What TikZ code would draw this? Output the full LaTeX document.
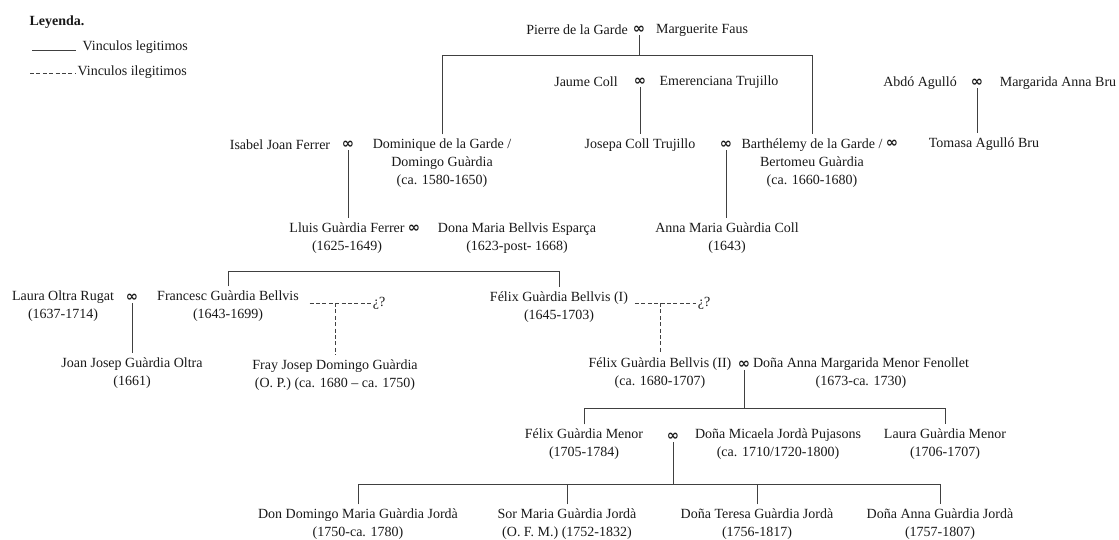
\documentclass[tikz,border=0pt]{standalone}
\usepackage{fontspec}
\setmainfont{Liberation Serif}
\newfontfamily\infsym{DejaVu Sans}
\usetikzlibrary{positioning}

\begin{document}
\begin{tikzpicture}[x=0.75pt,y=-0.75pt,
person/.style={align=center,inner xsep=1pt,inner ysep=3pt,font=\fontsize{10.5}{13.5}\selectfont,text=black!90},
wed/.style={inner sep=1pt,font=\infsym\bfseries\fontsize{11}{11}\selectfont,text=black!90},
legit/.style={line width=0.7pt,draw=black!75},
illeg/.style={legit,dash pattern=on 3pt off 1.8pt}
]
\useasboundingbox (0,0) rectangle (1119,539);
% leyenda
\node[person,anchor=west,font=\fontsize{10.5}{13.5}\selectfont\bfseries] (ley) at (28,22) {Leyenda.};
\coordinate (s1a) at (32,50);
\coordinate (s1b) at (76,50);
\node[person,anchor=west] (leg1) at (81,47) {Vinculos legitimos};
\coordinate (d1a) at (30,73);
\coordinate (d1b) at (75,73);
\node[person,anchor=west] (leg2) at (76,72) {Vinculos ilegitimos};
\draw[legit] (s1a) -- (s1b);
\draw[illeg] (d1a) -- (d1b);
% generation 1
\node[person] (pierre) at (577,30) {Pierre de la Garde};
\node[wed] (m0) at (639,30) {∞};
\node[person] (marguerite) at (702,30) {Marguerite Faus};
\node[person] (jaume) at (586,82) {Jaume Coll};
\node[wed] (m1) at (640,82) {∞};
\node[person] (emerenciana) at (719,82) {Emerenciana Trujillo};
\node[person] (abdo) at (920,83) {Abdó Agulló};
\node[wed] (m2) at (977,83) {∞};
\node[person] (margarida) at (1058,83) {Margarida Anna Bru};
% generation 2
\node[person] (isabel) at (280,145) {Isabel Joan Ferrer};
\node[wed] (m3) at (348,145) {∞};
\node[person] (dominique) at (442,163) {Dominique de la Garde /\\Domingo Guàrdia\\(ca. 1580-1650)};
\node[person] (josepa) at (640,145) {Josepa Coll Trujillo};
\node[wed] (m4) at (726,145) {∞};
\node[person] (barthelemy) at (812,163) {Barthélemy de la Garde /\\Bertomeu Guàrdia\\(ca. 1660-1680)};
\node[wed] (m5) at (892,144) {∞};
\node[person] (tomasa) at (984,144) {Tomasa Agulló Bru};
% generation 3
\node[person] (lluis) at (347,238) {Lluis Guàrdia Ferrer\\(1625-1649)};
\node[wed] (m6) at (414,229) {∞};
\node[person] (dona) at (517,238) {Dona Maria Bellvis Esparça\\(1623-post- 1668)};
\node[person] (annamaria) at (727,238) {Anna Maria Guàrdia Coll\\(1643)};
% generation 4
\node[person] (laura) at (63,306) {Laura Oltra Rugat\\(1637-1714)};
\node[wed] (m7) at (132,298) {∞};
\node[person] (francesc) at (228,306) {Francesc Guàrdia Bellvis\\(1643-1699)};
\node[person] (q1) at (379,303) {¿?};
\node[person] (felix1) at (559,307) {Félix Guàrdia Bellvis (I)\\(1645-1703)};
\node[person] (q2) at (704,303) {¿?};
% generation 5
\node[person] (joanjosep) at (132,373) {Joan Josep Guàrdia Oltra\\(1661)};
\node[person] (fray) at (335,375) {Fray Josep Domingo Guàrdia\\(O. P.) (ca. 1680 – ca. 1750)};
\node[person] (felix2) at (660,373) {Félix Guàrdia Bellvis (II)\\(ca. 1680-1707)};
\node[wed] (m8) at (744,365) {∞};
\node[person] (anna) at (861,373) {Doña Anna Margarida Menor Fenollet\\(1673-ca. 1730)};
% generation 6
\node[person] (felixm) at (584,444) {Félix Guàrdia Menor\\(1705-1784)};
\node[wed] (m9) at (673,437) {∞};
\node[person] (micaela) at (778,444) {Doña Micaela Jordà Pujasons\\(ca. 1710/1720-1800)};
\node[person] (lauram) at (945,444) {Laura Guàrdia Menor\\(1706-1707)};
% generation 7
\node[person] (domingo) at (358,524) {Don Domingo Maria Guàrdia Jordà\\(1750-ca. 1780)};
\node[person] (sormaria) at (567,524) {Sor Maria Guàrdia Jordà\\(O. F. M.) (1752-1832)};
\node[person] (teresa) at (757,524) {Doña Teresa Guàrdia Jordà\\(1756-1817)};
\node[person] (annagj) at (940,524) {Doña Anna Guàrdia Jordà\\(1757-1807)};
% vincles
\draw[legit] (m0) -- (m0 |- 0,55);
\draw[legit] (dominique) -- (dominique |- 0,55) -- (barthelemy |- 0,55) -- (barthelemy);
\draw[legit] (m1) -- (josepa);
\draw[legit] (m2) -- (m2 |- tomasa.north);
\draw[legit] (m3) -- (m3 |- lluis.north);
\draw[legit] (m4) -- (m4 |- annamaria.north);
\draw[legit] (francesc) -- (francesc |- 0,271) -- (felix1 |- 0,271) -- (felix1);
\draw[legit] (m7) -- (joanjosep);
\draw[illeg,shorten <=7pt] (francesc.east |- q1) -- (q1);
\draw[illeg] (fray |- q1) -- (fray);
\draw[illeg,shorten <=4pt] (felix1.east |- q2) -- (q2);
\draw[illeg] (felix2 |- q2) -- (felix2);
\draw[legit] (m8) -- (m8 |- 0,408);
\draw[legit] (felixm) -- (felixm |- 0,408) -- (lauram |- 0,408) -- (lauram);
\draw[legit] (m9) -- (m9 |- 0,484);
\draw[legit] (domingo) -- (domingo |- 0,484) -- (annagj |- 0,484) -- (annagj);
\draw[legit] (sormaria) -- (sormaria |- 0,484);
\draw[legit] (teresa) -- (teresa |- 0,484);
\end{tikzpicture}
\end{document}
